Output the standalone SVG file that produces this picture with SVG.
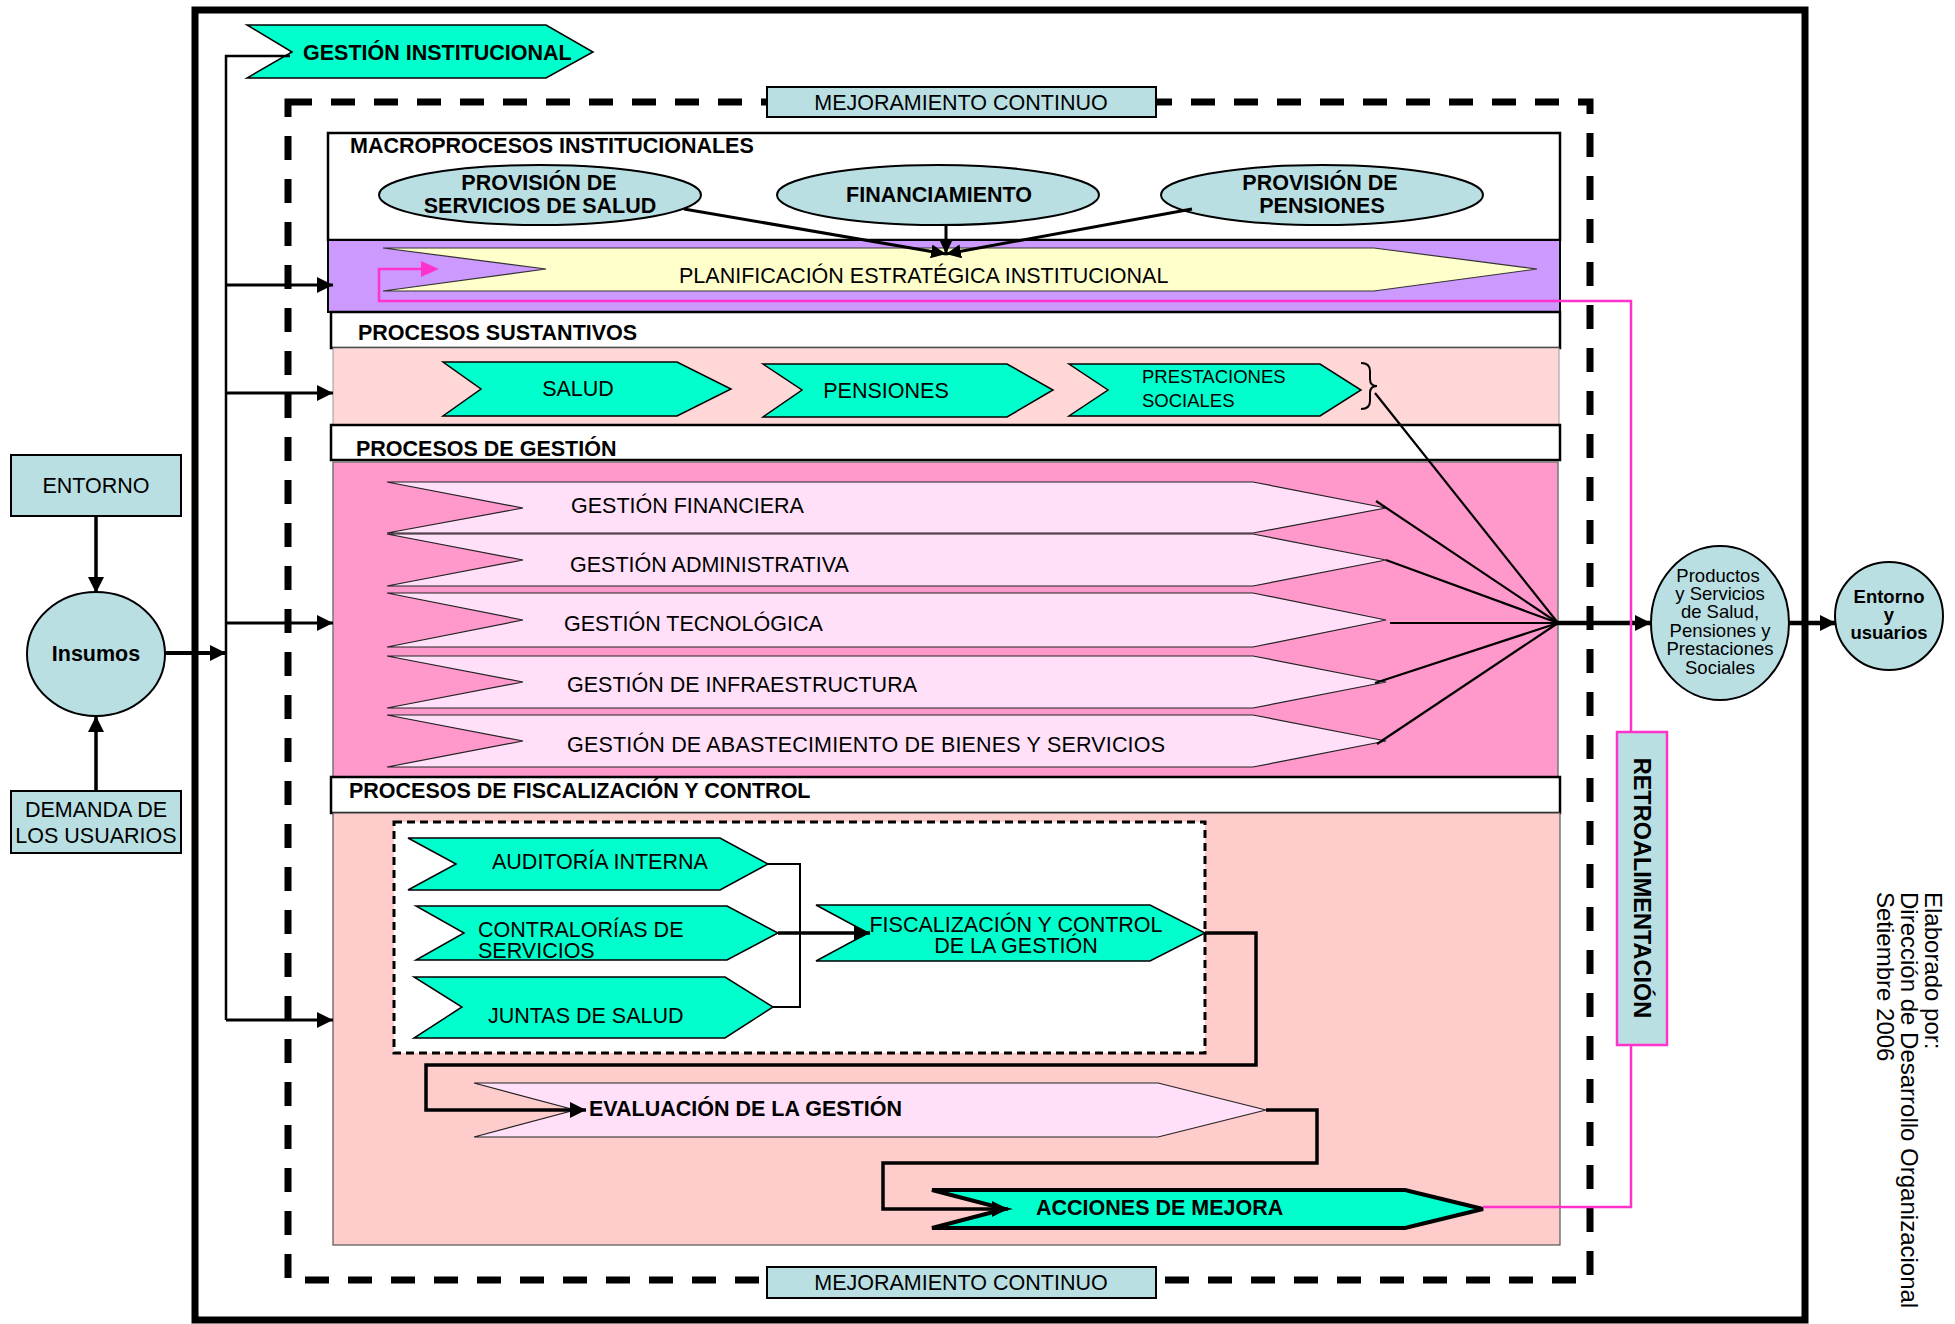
<svg xmlns="http://www.w3.org/2000/svg" width="1955" height="1324" viewBox="0 0 1955 1324">
<defs>
<style>
text{font-family:"Liberation Sans",Arial,sans-serif;fill:#000}
.b{font-weight:bold}
.t21{font-size:21.5px}
.t18{font-size:18.5px}
.lb{fill:#b9dfe3;stroke:#000;stroke-width:2}
.aq{fill:#00ffcc;stroke:#000;stroke-width:1.5}
.pk{fill:#ffe0f8;stroke:#222;stroke-width:1.2}
.hdr{fill:#fff;stroke:#000;stroke-width:2.5}
.ln{fill:none;stroke:#000}
.mg{fill:none;stroke:#ff33cc;stroke-width:2.5}
</style>
<marker id="ah" viewBox="0 0 16 16" refX="16" refY="8" markerWidth="16" markerHeight="16" markerUnits="userSpaceOnUse" orient="auto">
<path d="M0,0 L16,8 L0,16 z" fill="#000"/>
</marker>
<marker id="ahs" viewBox="0 0 15 14" refX="15" refY="7" markerWidth="15" markerHeight="14" markerUnits="userSpaceOnUse" orient="auto">
<path d="M0,0 L15,7 L0,14 z" fill="#000"/>
</marker>
</defs>
<rect width="1955" height="1324" fill="#fff"/>

<!-- outer frame -->
<rect id="frame" x="195" y="10" width="1610" height="1310" fill="none" stroke="#000" stroke-width="7"/>

<!-- bands -->
<g id="macro">
<rect class="hdr" x="328" y="133" width="1232" height="107"/>
<text class="b t21" x="350" y="153">MACROPROCESOS INSTITUCIONALES</text>
</g>
<g id="band-planif">
<rect x="328" y="240" width="1232" height="72" fill="#cc99ff" stroke="#000" stroke-width="2"/>
</g>
<g id="hdr-sust">
<rect class="hdr" x="331" y="312" width="1229" height="36"/>
<text class="b t21" x="358" y="340">PROCESOS SUSTANTIVOS</text>
</g>
<rect id="band-sust" x="333" y="348" width="1226" height="77" fill="#ffd7d7" stroke="#999" stroke-width="1"/>
<g id="hdr-gest">
<rect class="hdr" x="331" y="425" width="1229" height="35"/>
<text class="b t21" x="356" y="456">PROCESOS DE GESTIÓN</text>
</g>
<rect id="band-gest" x="333" y="462" width="1225" height="315" fill="#ff99cc" stroke="#777" stroke-width="1.5"/>
<g id="hdr-fisc">
<rect class="hdr" x="331" y="777" width="1229" height="36"/>
<text class="b t21" x="349" y="798">PROCESOS DE FISCALIZACIÓN Y CONTROL</text>
</g>
<rect id="band-fisc" x="333" y="813" width="1227" height="432" fill="#ffcccc" stroke="#555" stroke-width="1.2"/>

<!-- dashed continuous improvement frame -->
<rect id="mejora-frame" x="288" y="102" width="1302" height="1178" fill="none" stroke="#000" stroke-width="7" stroke-dasharray="24 19"/>
<rect id="fisc-box" x="394" y="822" width="811" height="231" fill="#fff" stroke="#000" stroke-width="3" stroke-dasharray="8 5"/>

<!-- nodes -->
<g id="gestion-institucional">
<polygon class="aq" points="247,25 546,25 593,52 546,78 247,78 292,52"/>
<text class="b t21" x="303" y="60">GESTIÓN INSTITUCIONAL</text>
</g>
<g id="mejoramiento-top">
<rect class="lb" x="767" y="87" width="389" height="30"/>
<text class="t21" x="961" y="110" text-anchor="middle">MEJORAMIENTO CONTINUO</text>
</g>
<g id="mejoramiento-bottom">
<rect class="lb" x="767" y="1267" width="389" height="31"/>
<text class="t21" x="961" y="1290" text-anchor="middle">MEJORAMIENTO CONTINUO</text>
</g>
<g id="provision-salud">
<ellipse class="lb" cx="540" cy="195" rx="161" ry="30"/>
<text class="b t21" x="539" y="190" text-anchor="middle">PROVISIÓN DE</text>
<text class="b t21" x="540" y="213" text-anchor="middle">SERVICIOS DE SALUD</text>
</g>
<g id="financiamiento">
<ellipse class="lb" cx="938" cy="195" rx="161" ry="30"/>
<text class="b t21" x="939" y="202" text-anchor="middle">FINANCIAMIENTO</text>
</g>
<g id="provision-pensiones">
<ellipse class="lb" cx="1322" cy="195" rx="161" ry="30"/>
<text class="b t21" x="1320" y="190" text-anchor="middle">PROVISIÓN DE</text>
<text class="b t21" x="1322" y="213" text-anchor="middle">PENSIONES</text>
</g>
<g id="planificacion">
<polygon points="383,248 1374,248 1537,269 1374,291 383,291 546,269" fill="#ffffcc" stroke="#333" stroke-width="1.2"/>
<text class="t21" x="679" y="283">PLANIFICACIÓN ESTRATÉGICA INSTITUCIONAL</text>
</g>
<g id="salud">
<polygon class="aq" points="443,362 677,362 731,389 677,416 443,416 481,389"/>
<text class="t21" x="578" y="396" text-anchor="middle">SALUD</text>
</g>
<g id="pensiones">
<polygon class="aq" points="763,364 1007,364 1053,390 1007,417 763,417 802,390"/>
<text class="t21" x="886" y="398" text-anchor="middle">PENSIONES</text>
</g>
<g id="prestaciones">
<polygon class="aq" points="1069,364 1320,364 1361,390 1320,416 1069,416 1108,390"/>
<text class="t18" x="1142" y="383">PRESTACIONES</text>
<text class="t18" x="1142" y="407">SOCIALES</text>
</g>
<g id="gestion-financiera">
<polygon class="pk" points="387,482 1253,482 1386,508 1253,533 387,533 523,508"/>
<text class="t21" x="571" y="513">GESTIÓN FINANCIERA</text>
</g>
<g id="gestion-administrativa">
<polygon class="pk" points="387,534 1253,534 1386,560 1253,586 387,586 523,560"/>
<text class="t21" x="570" y="572">GESTIÓN ADMINISTRATIVA</text>
</g>
<g id="gestion-tecnologica">
<polygon class="pk" points="387,593 1253,593 1386,620 1253,647 387,647 523,620"/>
<text class="t21" x="564" y="631">GESTIÓN TECNOLÓGICA</text>
</g>
<g id="gestion-infraestructura">
<polygon class="pk" points="387,656 1253,656 1386,682 1253,708 387,708 523,682"/>
<text class="t21" x="567" y="692">GESTIÓN DE INFRAESTRUCTURA</text>
</g>
<g id="gestion-abastecimiento">
<polygon class="pk" points="387,715 1253,715 1386,741 1253,767 387,767 523,741"/>
<text class="t21" x="567" y="752" textLength="598">GESTIÓN DE ABASTECIMIENTO DE BIENES Y SERVICIOS</text>
</g>
<g id="auditoria">
<polygon class="aq" stroke-width="2.5" points="408,838 720,838 768,864 720,890 408,890 456,864"/>
<text class="t21" x="492" y="869">AUDITORÍA INTERNA</text>
</g>
<g id="contralorias">
<polygon class="aq" stroke-width="2.5" points="416,906 727,906 778,933 727,960 416,960 464,933"/>
<text class="t21" x="478" y="937">CONTRALORÍAS DE</text>
<text class="t21" x="478" y="958">SERVICIOS</text>
</g>
<g id="juntas">
<polygon class="aq" stroke-width="2.5" points="414,977 725,977 773,1007 725,1038 414,1038 462,1007"/>
<text class="t21" x="488" y="1023">JUNTAS DE SALUD</text>
</g>
<g id="fiscalizacion-control">
<polygon class="aq" stroke-width="1.2" points="816,905 1150,905 1205,933 1150,961 816,961 868,933"/>
<text class="t21" x="1016" y="932" text-anchor="middle">FISCALIZACIÓN Y CONTROL</text>
<text class="t21" x="1016" y="953" text-anchor="middle">DE LA GESTIÓN</text>
</g>
<g id="evaluacion">
<polygon class="pk" points="474,1083 1158,1083 1266,1110 1158,1137 474,1137 575,1110"/>
<text class="b t21" x="589" y="1116">EVALUACIÓN DE LA GESTIÓN</text>
</g>
<g id="acciones-mejora">
<polygon fill="#00ffcc" stroke="#000" stroke-width="4" stroke-linejoin="miter" points="932,1190 1405,1190 1483,1209 1405,1228 932,1228 1005,1209"/>
<text class="b t21" x="1036" y="1215">ACCIONES DE MEJORA</text>
</g>
<g id="retroalimentacion">
<rect x="1617" y="732" width="50" height="313" fill="#b9dfe3" stroke="#ff33cc" stroke-width="2.5"/>
<text class="b" font-size="23.5" transform="translate(1634,888) rotate(90)" text-anchor="middle">RETROALIMENTACIÓN</text>
</g>
<g id="entorno">
<rect class="lb" x="11" y="455" width="170" height="61"/>
<text class="t21" x="96" y="493" text-anchor="middle">ENTORNO</text>
</g>
<g id="insumos">
<ellipse class="lb" cx="96" cy="654" rx="69" ry="62"/>
<text class="b t21" x="96" y="661" text-anchor="middle">Insumos</text>
</g>
<g id="demanda">
<rect class="lb" x="11" y="791" width="170" height="62"/>
<text class="t21" x="96" y="817" text-anchor="middle">DEMANDA DE</text>
<text class="t21" x="96" y="843" text-anchor="middle">LOS USUARIOS</text>
</g>
<g id="productos">
<ellipse class="lb" cx="1720" cy="623" rx="69" ry="77"/>
<g class="t18" text-anchor="middle">
<text x="1718" y="582">Productos</text>
<text x="1720" y="600">y Servicios</text>
<text x="1720" y="618">de Salud,</text>
<text x="1720" y="637">Pensiones y</text>
<text x="1720" y="655">Prestaciones</text>
<text x="1720" y="674">Sociales</text>
</g>
</g>
<g id="entorno-usuarios">
<ellipse class="lb" cx="1889" cy="616" rx="54" ry="54"/>
<g class="b t18" text-anchor="middle">
<text x="1889" y="603">Entorno</text>
<text x="1889" y="621">y</text>
<text x="1889" y="639">usuarios</text>
</g>
</g>
<g id="credito">
<text font-size="24" transform="translate(1925,892) rotate(90)">
<tspan x="0" y="0">Elaborado por:</tspan>
<tspan x="0" y="24">Dirección de Desarrollo Organizacional</tspan>
<tspan x="0" y="48">Setiembre 2006</tspan>
</text>
</g>

<!-- connectors -->
<g id="connectors">
<!-- left bus -->
<polyline class="ln" stroke-width="2.5" points="290,56 226,56 226,1020"/>
<line class="ln" stroke-width="3" x1="226" y1="285" x2="333" y2="285" marker-end="url(#ah)"/>
<line class="ln" stroke-width="3" x1="226" y1="393" x2="333" y2="393" marker-end="url(#ah)"/>
<line class="ln" stroke-width="3" x1="226" y1="623" x2="333" y2="623" marker-end="url(#ah)"/>
<line class="ln" stroke-width="3" x1="226" y1="1020" x2="333" y2="1020" marker-end="url(#ah)"/>
<line class="ln" stroke-width="4" x1="165" y1="653" x2="226" y2="653" marker-end="url(#ah)"/>
<line class="ln" stroke-width="3.5" x1="96" y1="516" x2="96" y2="593" marker-end="url(#ah)"/>
<line class="ln" stroke-width="3.5" x1="96" y1="791" x2="96" y2="716" marker-end="url(#ah)"/>
<!-- macro to planificación -->
<line class="ln" stroke-width="3" x1="684" y1="209" x2="946" y2="254" marker-end="url(#ahs)"/>
<line class="ln" stroke-width="3" x1="946" y1="225" x2="946" y2="254" marker-end="url(#ahs)"/>
<line class="ln" stroke-width="3" x1="1192" y1="209" x2="946" y2="254" marker-end="url(#ahs)"/>
<!-- fan to output -->
<g class="ln" stroke-width="2.2">
<line x1="1375" y1="393" x2="1558" y2="623"/>
<line x1="1376" y1="501" x2="1558" y2="623"/>
<line x1="1386" y1="560" x2="1558" y2="623"/>
<line x1="1390" y1="623" x2="1558" y2="623"/>
<line x1="1375" y1="683" x2="1558" y2="623"/>
<line x1="1377" y1="744" x2="1558" y2="623"/>
</g>
<path class="ln" stroke-width="2" d="M1361,363 Q1370,363 1370,371 L1370,379 Q1370,386 1377,386 Q1370,386 1370,393 L1370,401 Q1370,409 1361,409"/>
<line class="ln" stroke-width="4.5" x1="1556" y1="623" x2="1651" y2="623" marker-end="url(#ah)"/>
<line class="ln" stroke-width="4.5" x1="1789" y1="623" x2="1836" y2="623" marker-end="url(#ah)"/>
<!-- fiscalización flow -->
<polyline class="ln" stroke-width="2" points="768,864 800,864 800,1007 773,1007"/>
<line class="ln" stroke-width="3.5" x1="778" y1="933" x2="870" y2="933" marker-end="url(#ah)"/>
<polyline class="ln" stroke-width="3.5" points="1205,933 1256,933 1256,1065 426,1065 426,1110 586,1110" marker-end="url(#ah)"/>
<polyline class="ln" stroke-width="3.5" points="1266,1110 1317,1110 1317,1163 883,1163 883,1209 1008,1209" marker-end="url(#ah)"/>
<!-- feedback (magenta) -->
<polyline class="mg" points="1483,1207 1631,1207 1631,1046"/>
<polyline class="mg" points="1631,731 1631,301 379,301 379,269 422,269"/>
<path d="M421,261 L439,269 L421,277 z" fill="#ff33cc"/>
</g>
</svg>
